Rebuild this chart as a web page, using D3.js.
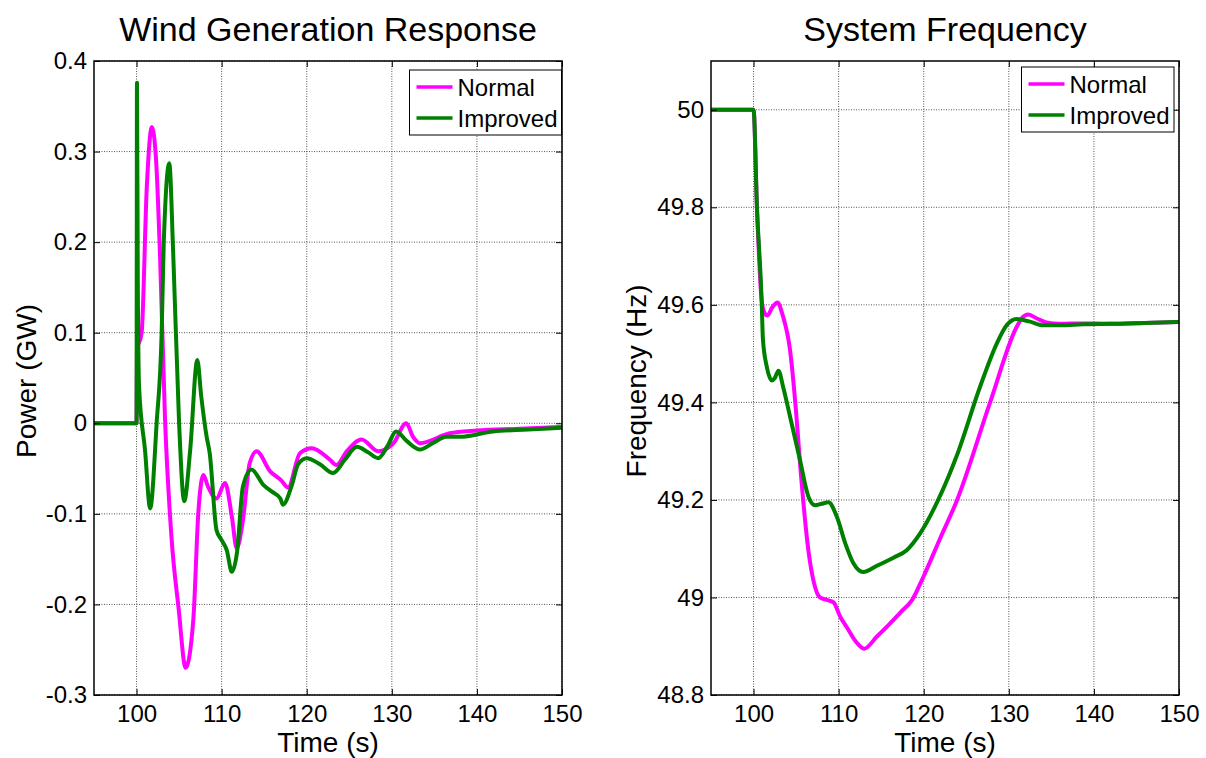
<!DOCTYPE html>
<html>
<head>
<meta charset="utf-8">
<script src="https://cdn.jsdelivr.net/npm/d3@7"></script>
<style>
  body { margin: 0; background: #fff; }
  svg { display: block; font-family: "Liberation Sans", Arial, sans-serif; }
  .grid line { stroke: #555; stroke-dasharray: 1,1.5; stroke-width: 1; }
</style>
</head>
<body>
<svg id="chart" width="1206" height="758"></svg>
<script>
// tick values and labels
const timeTicks = [100, 110, 120, 130, 140, 150];
const powerTicks = [-0.3, -0.2, -0.1, 0, 0.1, 0.2, 0.3, 0.4];
const powerTickLabels = ["-0.3", "-0.2", "-0.1", "0", "0.1", "0.2", "0.3", "0.4"];
const freqTicks = [48.8, 49, 49.2, 49.4, 49.6, 49.8, 50];
const freqTickLabels = ["48.8", "49", "49.2", "49.4", "49.6", "49.8", "50"];

const seriesNames = ["Normal", "Improved"];
const seriesColors = ["#ff00ff", "#008000"];

// wind generation response, [time s, power GW]
const windNormal = [
  [95, 0], [100, 0], [100.05, 0.08], [100.6, 0.1], [101.2, 0.26], [101.8, 0.327], [102.3, 0.29],
  [102.76, 0.185], [103.35, 0.004], [104.1, -0.125], [104.95, -0.205], [105.77, -0.27], [106.67, -0.217],
  [107.26, -0.099], [107.85, -0.057], [108.4, -0.07], [109.4, -0.083], [110.4, -0.066], [111.2, -0.103],
  [111.77, -0.138], [112.5, -0.107], [113.3, -0.044], [114.1, -0.031], [115.7, -0.053], [117.0, -0.063],
  [117.8, -0.071], [119.2, -0.033], [120.6, -0.0275], [122.7, -0.04], [123.5, -0.046], [124.7, -0.031],
  [126.45, -0.018], [128.4, -0.031], [130.2, -0.022], [131.7, 0.0], [132.5, -0.015], [133.3, -0.022],
  [136.8, -0.011], [140, -0.008], [145, -0.006], [150, -0.004]
];
const windImproved = [
  [95, 0], [100, 0], [100.05, 0.376], [100.15, 0.15], [100.3, 0.04], [101.0, -0.03], [101.6, -0.094],
  [102.36, 0.0], [102.95, 0.1], [103.2, 0.2], [103.85, 0.287], [104.3, 0.19], [105.0, 0.0], [105.6, -0.086],
  [106.3, -0.03], [107.14, 0.07], [107.6, 0.03], [108.24, -0.015], [108.6, -0.033], [109.4, -0.118],
  [110.0, -0.129], [110.6, -0.14], [111.2, -0.164], [111.8, -0.143], [112.5, -0.07], [113.5, -0.051],
  [114.9, -0.068], [116.0, -0.076], [116.9, -0.083], [117.2, -0.09], [118.2, -0.07], [119.0, -0.045],
  [120.0, -0.0385], [121.5, -0.045], [123.1, -0.055], [124.5, -0.04], [125.9, -0.026], [127.2, -0.032],
  [128.4, -0.0385], [129.5, -0.025], [130.5, -0.009], [131.8, -0.02], [133.3, -0.029], [134.8, -0.022],
  [136.4, -0.015], [138.0, -0.015], [141.9, -0.009], [146, -0.007], [150, -0.005]
];

// system frequency, [time s, frequency Hz]
const freqNormal = [
  [95, 50], [100, 50], [100.4, 49.8], [100.95, 49.61], [101.3, 49.583], [101.64, 49.578], [102.2, 49.595],
  [102.82, 49.605], [103.4, 49.58], [104.3, 49.506], [105.0, 49.38], [105.5, 49.267], [106.45, 49.096],
  [107.1, 49.03], [107.8, 49.0], [108.6, 48.995], [109.4, 48.99], [110.2, 48.96], [110.96, 48.939],
  [112.0, 48.91], [113.0, 48.895], [114.5, 48.92], [116.0, 48.946], [117.3, 48.97], [118.6, 48.994],
  [119.95, 49.042], [121.9, 49.12], [123.9, 49.199], [127.8, 49.40], [130.9, 49.554], [131.5, 49.572],
  [132.28, 49.58], [133.3, 49.572], [134.4, 49.564], [136, 49.561], [138.7, 49.562], [142, 49.561],
  [146, 49.563], [150, 49.565]
];
const freqImproved = [
  [95, 50], [100, 50], [100.4, 49.8], [100.95, 49.61], [101.1, 49.53], [101.57, 49.472], [102.16, 49.445],
  [102.5, 49.45], [102.93, 49.465], [103.5, 49.43], [104.3, 49.37], [105.48, 49.28], [106.46, 49.206],
  [107.24, 49.189], [108.0, 49.192], [108.8, 49.195], [109.8, 49.165], [110.8, 49.11], [111.74, 49.07],
  [112.9, 49.052], [114.5, 49.065], [116.5, 49.082], [118.0, 49.097], [119.56, 49.131], [121.7, 49.2],
  [123.87, 49.29], [126.6, 49.431], [128.57, 49.52], [129.74, 49.558], [130.9, 49.571], [132.4, 49.566],
  [134.0, 49.558], [136, 49.558], [138.7, 49.56], [144, 49.562], [150, 49.565]
];

const svg = d3.select("#chart");
const font = "\"Liberation Sans\", Arial, sans-serif";

function drawPanel(opts) {
  const x = d3.scaleLinear().domain([95, 150]).range([opts.left, opts.right]);
  const y = d3.scaleLinear().domain(opts.yDomain).range([opts.bottom, opts.top]);
  const g = svg.append("g");

  // grid
  const grid = g.append("g").attr("class", "grid");
  grid.selectAll(".gx").data(timeTicks).enter().append("line")
    .attr("x1", d => x(d)).attr("x2", d => x(d))
    .attr("y1", opts.top).attr("y2", opts.bottom);
  grid.selectAll(".gy").data(opts.yTicks).enter().append("line")
    .attr("x1", opts.left).attr("x2", opts.right)
    .attr("y1", d => y(d)).attr("y2", d => y(d));

  // lines
  const line = d3.line().x(d => x(d[0])).y(d => y(d[1])).curve(d3.curveMonotoneX);
  opts.series.forEach((s, i) => {
    g.append("path")
      .datum(s)
      .attr("fill", "none")
      .attr("stroke", seriesColors[i])
      .attr("stroke-width", 4)
      .attr("stroke-linejoin", "round")
      .attr("d", line);
  });

  // axes, ticks inside on all four sides
  const tickLen = 6;
  const bottomAxis = g.append("g")
    .attr("transform", `translate(0,${opts.bottom})`)
    .call(d3.axisBottom(x).tickValues(timeTicks).tickSizeInner(-tickLen).tickSizeOuter(0).tickPadding(10));
  const topAxis = g.append("g")
    .attr("transform", `translate(0,${opts.top})`)
    .call(d3.axisTop(x).tickValues(timeTicks).tickSizeInner(-tickLen).tickSizeOuter(0).tickFormat(""));
  const leftAxis = g.append("g")
    .attr("transform", `translate(${opts.left},0)`)
    .call(d3.axisLeft(y).tickValues(opts.yTicks).tickSizeInner(-tickLen).tickSizeOuter(0).tickPadding(7)
      .tickFormat((d, i) => opts.yLabels[i]));
  const rightAxis = g.append("g")
    .attr("transform", `translate(${opts.right},0)`)
    .call(d3.axisRight(y).tickValues(opts.yTicks).tickSizeInner(-tickLen).tickSizeOuter(0).tickFormat(""));

  [bottomAxis, topAxis, leftAxis, rightAxis].forEach(a => {
    a.select(".domain").remove();
    a.selectAll("line").attr("stroke", "#000").attr("stroke-width", 1);
    a.selectAll("text").attr("font-family", font).attr("font-size", 24).attr("fill", "#000");
  });

  g.append("rect")
    .attr("x", opts.left).attr("y", opts.top)
    .attr("width", opts.right - opts.left).attr("height", opts.bottom - opts.top)
    .attr("fill", "none").attr("stroke", "#000").attr("stroke-width", 1.5);

  // title and labels
  g.append("text")
    .attr("x", (opts.left + opts.right) / 2).attr("y", 41)
    .attr("text-anchor", "middle").attr("font-size", 34).attr("font-family", font)
    .text(opts.title);
  g.append("text")
    .attr("x", (opts.left + opts.right) / 2).attr("y", 752)
    .attr("text-anchor", "middle").attr("font-size", 28).attr("font-family", font)
    .text("Time (s)");
  g.append("text")
    .attr("transform", `translate(${opts.yLabelX},${(opts.top + opts.bottom) / 2 + 3}) rotate(-90)`)
    .attr("text-anchor", "middle").attr("font-size", 28).attr("font-family", font)
    .text(opts.yLabel);

  // legend
  const lg = g.append("g").attr("transform", `translate(${opts.legend.x},${opts.legend.y})`);
  lg.append("rect")
    .attr("width", opts.legend.w).attr("height", opts.legend.h)
    .attr("fill", "#fff").attr("stroke", "#000").attr("stroke-width", 1);
  seriesNames.forEach((name, i) => {
    const ly = 17 + i * 31;
    lg.append("line")
      .attr("x1", 7).attr("x2", 43).attr("y1", ly).attr("y2", ly)
      .attr("stroke", seriesColors[i]).attr("stroke-width", 3.5);
    lg.append("text")
      .attr("x", 48).attr("y", ly + 8.5)
      .attr("font-size", 24).attr("font-family", font)
      .text(name);
  });
}

drawPanel({
  left: 94, right: 562, top: 61, bottom: 695,
  yDomain: [-0.3, 0.4], yTicks: powerTicks, yLabels: powerTickLabels,
  series: [windNormal, windImproved],
  title: "Wind Generation Response", yLabel: "Power (GW)", yLabelX: 36,
  legend: { x: 409.5, y: 70, w: 152, h: 65 }
});

drawPanel({
  left: 711, right: 1179, top: 61, bottom: 695,
  yDomain: [48.8, 50.1], yTicks: freqTicks, yLabels: freqTickLabels,
  series: [freqNormal, freqImproved],
  title: "System Frequency", yLabel: "Frequency (Hz)", yLabelX: 646,
  legend: { x: 1021.5, y: 67, w: 152.5, h: 65 }
});
</script>
</body>
</html>
